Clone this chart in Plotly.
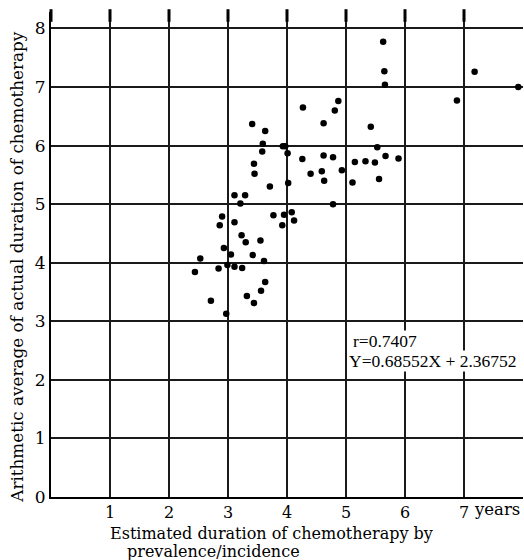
import plotly.graph_objects as go

# Estimated duration (x, years) vs arithmetic average of actual duration (y)
est_duration = [
    3.41, 3.63, 3.59, 3.93, 3.97, 3.58, 4.01, 4.26, 3.44, 3.45, 4.02, 3.71, 3.11, 3.29, 3.21,
    2.90, 3.77, 3.95, 4.08, 4.12, 3.92, 2.86, 3.11, 3.23, 3.30, 3.55, 2.93, 3.05, 3.42, 3.61,
    2.53, 2.99, 2.84, 3.11, 3.24, 2.44, 3.63, 3.56, 3.32, 2.71, 3.44, 2.97,
    5.66, 4.87, 4.27, 4.81, 4.62, 5.42, 5.53, 4.62, 4.78, 5.67, 5.89, 5.15, 5.33, 5.49,
    4.40, 4.59, 4.93, 4.63, 5.56, 5.11, 4.78,
    5.63, 5.65, 7.18, 6.88, 7.92,
]
actual_duration = [
    6.37, 6.25, 6.03, 5.99, 5.99, 5.90, 5.87, 5.77, 5.69, 5.52, 5.36, 5.30, 5.15, 5.15, 5.01,
    4.79, 4.81, 4.82, 4.86, 4.72, 4.64, 4.64, 4.69, 4.47, 4.35, 4.38, 4.25, 4.14, 4.13, 4.03,
    4.07, 3.96, 3.90, 3.93, 3.91, 3.84, 3.67, 3.52, 3.43, 3.35, 3.31, 3.13,
    7.04, 6.76, 6.65, 6.60, 6.38, 6.32, 5.97, 5.83, 5.80, 5.82, 5.78, 5.72, 5.73, 5.71,
    5.52, 5.56, 5.58, 5.40, 5.43, 5.37, 5.00,
    7.77, 7.27, 7.26, 6.77, 7.00,
]

x_ticks = [1, 2, 3, 4, 5, 6, 7]
x_ticktext = ["1", "2", "3", "4", "5", "6", "7"]
y_ticks = [0, 1, 2, 3, 4, 5, 6, 7, 8]
y_ticktext = ["0", "1", "2", "3", "4", "5", "6", "7", "8"]

x_title_1 = "Estimated duration of chemotherapy by"
x_title_2 = "prevalence/incidence"
y_title = "Arithmetic average of actual duration of chemotherapy"
stat_r = "r=0.7407"
stat_eq = "Y=0.68552X + 2.36752"

X_MAX = 8.0
Y_MAX = 8.28
FONT = "DejaVu Serif"
STAT_FONT = "Liberation Serif"

fig = go.Figure()

# small spikes at the top of the vertical rules
spike_x = [0] + x_ticks
fig.add_trace(go.Scatter(
    x=spike_x, y=[Y_MAX - 0.06] * len(spike_x), mode="markers",
    marker=dict(symbol="line-ns", size=9, line=dict(color="black", width=3)),
    cliponaxis=False, hoverinfo="skip", showlegend=False,
))

fig.add_trace(go.Scatter(
    x=est_duration, y=actual_duration, mode="markers",
    marker=dict(color="black", size=6.5),
    showlegend=False,
))

fig.update_layout(
    width=524, height=560,
    margin=dict(l=51, r=1, t=12, b=63, pad=0),
    paper_bgcolor="white", plot_bgcolor="white",
    font=dict(family=FONT, color="black"),
    xaxis=dict(
        range=[0, X_MAX], tickvals=x_ticks, ticktext=x_ticktext,
        showgrid=True, gridcolor="#1a1a1a", gridwidth=1.5,
        showline=True, linecolor="black", linewidth=2,
        zeroline=False, ticks="", tickfont=dict(family=FONT, size=16, color="black"),
    ),
    yaxis=dict(
        range=[0, Y_MAX], tickvals=y_ticks, ticktext=y_ticktext,
        showgrid=True, gridcolor="#1a1a1a", gridwidth=1.5,
        showline=True, linecolor="black", linewidth=2,
        zeroline=False, ticks="", tickfont=dict(family=FONT, size=17, color="black"),
    ),
    annotations=[
        dict(text="years", x=7, y=0, xref="x", yref="paper", xanchor="left", yanchor="top",
             xshift=8, yshift=-1, showarrow=False, font=dict(size=16.5)),
        dict(text=x_title_1, x=(108 - 51) / 472, y=(497.3 - 534) / 485, xref="paper", yref="paper",
             xanchor="left", yanchor="middle", showarrow=False, font=dict(size=16)),
        dict(text=x_title_2, x=(125 - 51) / 472, y=(497.3 - 552) / 485, xref="paper", yref="paper",
             xanchor="left", yanchor="middle", showarrow=False, font=dict(size=16)),
        dict(text=y_title, x=(17 - 51) / 472, y=(497.3 - 268) / 485, xref="paper", yref="paper",
             xanchor="center", yanchor="middle", textangle=-90, showarrow=False, font=dict(size=16.8)),
        dict(text=stat_r, x=5.1, y=2.67, xref="x", yref="y", xanchor="left", yanchor="middle",
             showarrow=False, font=dict(family=STAT_FONT, size=17.5), bgcolor="white", borderpad=0),
        dict(text=stat_eq, x=5.03, y=2.32, xref="x", yref="y", xanchor="left", yanchor="middle",
             showarrow=False, font=dict(family=STAT_FONT, size=17.5), bgcolor="white", borderpad=0),
    ],
)

fig.write_html("out.html")
